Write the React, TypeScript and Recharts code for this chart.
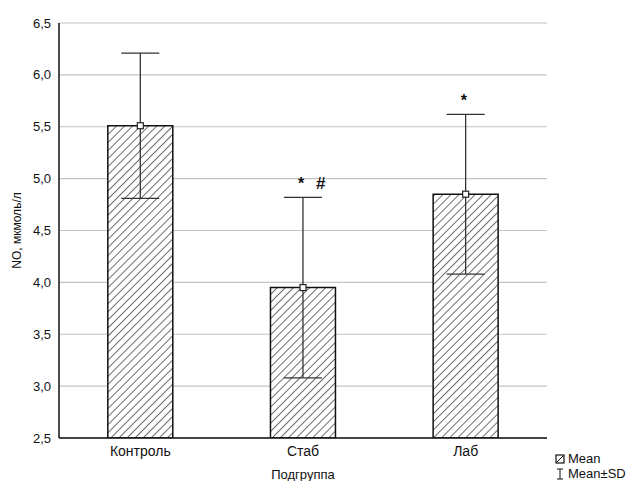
import React from 'react';
import {
    ComposedChart,
    Bar,
    Scatter,
    ErrorBar,
    XAxis,
    YAxis,
    CartesianGrid,
    Label
} from 'recharts';

const groups = ['Контроль', 'Стаб', 'Лаб'];
const means = [5.51, 3.95, 4.85];
const sds = [0.70, 0.87, 0.77];
const marks = ['', '* #', '*'];
const yTicks = [2.5, 3.0, 3.5, 4.0, 4.5, 5.0, 5.5, 6.0, 6.5];

const data = groups.map((group, i) => ({
    group,
    mean: means[i],
    sd: sds[i],
    upper: means[i] + sds[i],
    mark: marks[i]
}));

const font = '"Liberation Sans", Arial, sans-serif';
const fmt = (v: number) => v.toFixed(1).replace('.', ',');

const MeanSquare = (props: any) => {
    const { cx, cy } = props;
    if (cx == null || cy == null) return <g />;
    return <rect x={cx - 3} y={cy - 3} width={6} height={6} fill="white" stroke="#222" strokeWidth={1.2} />;
};

// significance marks drawn above the upper SD whisker
const MarkText = (props: any) => {
    const { cx, cy, payload } = props;
    if (!payload || !payload.mark) return <g />;
    const parts = payload.mark.split(' ');
    return (
        <g>
            {parts.map((p: string, i: number) => (
                <text key={i} x={cx - 5 + i * 18} y={cy - 8} fontFamily={font} fontSize={p === '#' ? 17 : 16} fontWeight="bold" fill="#111">
                    {p}
                </text>
            ))}
        </g>
    );
};

export default function App() {
    return (
        <div style={{ position: 'absolute', left: 0, top: 0, width: 630, height: 481, background: '#fff' }}>
            <ComposedChart
                width={630}
                height={481}
                data={data}
                margin={{ top: 23, right: 83, bottom: 0, left: 0 }}
                barCategoryGap="30%"
            >
                <defs>
                    <pattern id="hatch" width={5.7} height={5.7} patternUnits="userSpaceOnUse" patternTransform="rotate(45)">
                        <rect width={5.7} height={5.7} fill="#fff" />
                        <line x1={0} y1={0} x2={0} y2={5.7} stroke="#222" strokeWidth={1.3} />
                    </pattern>
                </defs>
                <CartesianGrid vertical={false} stroke="#c4c4c4" strokeWidth={1.2} />
                <XAxis
                    dataKey="group"
                    height={43}
                    tickLine={false}
                    axisLine={{ stroke: '#111', strokeWidth: 1.5 }}
                    tick={{ fill: '#111', fontSize: 14, fontFamily: font }}
                >
                    <Label value="Подгруппа" position="insideBottom" offset={2} fill="#111" style={{ fontSize: 13, fontFamily: font }} />
                </XAxis>
                <XAxis xAxisId="top" dataKey="group" orientation="top" height={0} tick={false} tickLine={false} axisLine={{ stroke: '#111', strokeWidth: 1.5 }} />
                <YAxis
                    domain={[2.5, 6.5]}
                    ticks={yTicks}
                    width={59}
                    tickFormatter={fmt}
                    tickLine={false}
                    axisLine={{ stroke: '#111', strokeWidth: 1.5 }}
                    tick={{ fill: '#111', fontSize: 13, fontFamily: font }}
                    allowDataOverflow
                >
                    <Label
                        content={({ viewBox }: any) => {
                            const cy = viewBox.y + viewBox.height / 2;
                            return (
                                <text x={18} y={cy} transform={`rotate(-90 18 ${cy})`} textAnchor="middle" dominantBaseline="middle" fontFamily={font} fontSize={12} fill="#111">
                                    NO, мкмоль/л
                                </text>
                            );
                        }}
                    />
                </YAxis>
                <YAxis yAxisId="right" orientation="right" width={0} domain={[2.5, 6.5]} tick={false} tickLine={false} axisLine={{ stroke: '#111', strokeWidth: 1.5 }} />
                <Bar dataKey="mean" fill="url(#hatch)" stroke="#111" strokeWidth={1.5} isAnimationActive={false}>
                    <ErrorBar dataKey="sd" width={19} stroke="#333" strokeWidth={1.3} />
                </Bar>
                <Scatter dataKey="mean" shape={<MeanSquare />} isAnimationActive={false} />
                <Scatter dataKey="upper" shape={<MarkText />} isAnimationActive={false} />
            </ComposedChart>
            <div style={{ position: 'absolute', left: 555, top: 451, fontFamily: font, fontSize: 13, color: '#111', lineHeight: '15px', whiteSpace: 'nowrap' }}>
                <div style={{ display: 'flex', alignItems: 'center' }}>
                    <svg width={10} height={10} style={{ marginRight: 3 }}>
                        <rect x={1} y={1} width={8} height={8} fill="#fff" stroke="#111" strokeWidth={1.2} />
                        <line x1={2} y1={8} x2={8} y2={2} stroke="#111" strokeWidth={1} />
                    </svg>
                    Mean
                </div>
                <div style={{ display: 'flex', alignItems: 'center' }}>
                    <svg width={10} height={12} style={{ marginRight: 3 }}>
                        <line x1={2} y1={1} x2={8} y2={1} stroke="#111" strokeWidth={1} />
                        <line x1={5} y1={1} x2={5} y2={11} stroke="#111" strokeWidth={1} />
                        <line x1={2} y1={11} x2={8} y2={11} stroke="#111" strokeWidth={1} />
                    </svg>
                    Mean±SD
                </div>
            </div>
        </div>
    );
}
